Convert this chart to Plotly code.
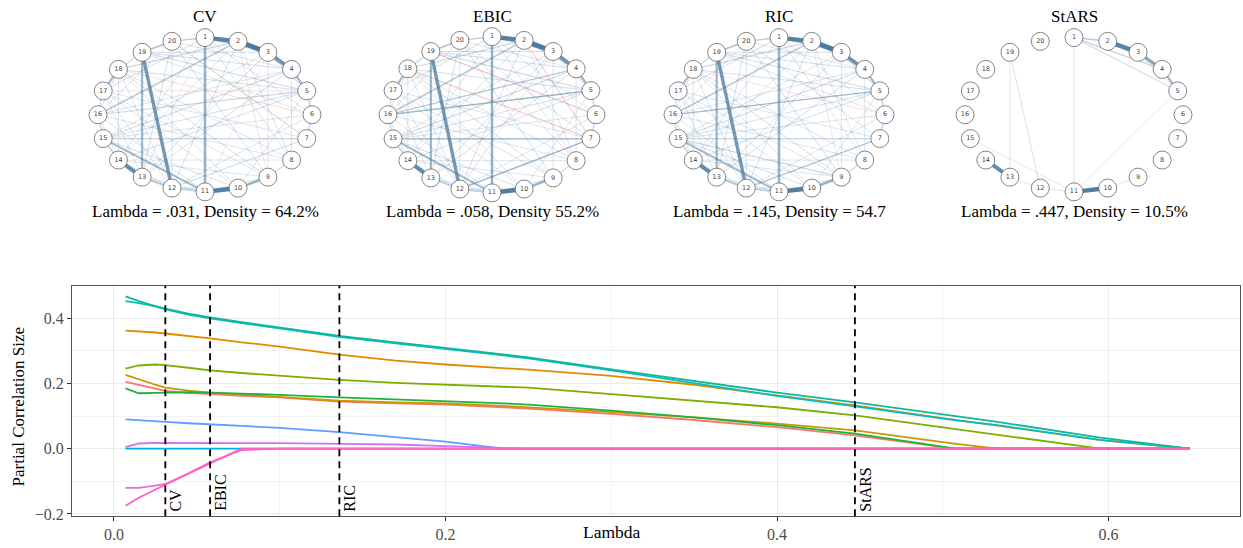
import math
import plotly.graph_objects as go

W, H = 1243, 548
SERIF = "Liberation Serif, DejaVu Serif, serif"

# ---------------- regularization path data ----------------
lam = [0.007, 0.015, 0.025, 0.031, 0.045, 0.058, 0.077, 0.1, 0.136, 0.17, 0.2,
       0.235, 0.25, 0.3, 0.35, 0.4, 0.447, 0.5, 0.508, 0.533, 0.595, 0.649]

zero_line = [0.0] * 22
teal_a = [0.467, 0.452, 0.437, 0.429, 0.414, 0.402, 0.388, 0.372, 0.346, 0.326, 0.308,
          0.289, 0.280, 0.243, 0.207, 0.172, 0.142, 0.104, 0.098, 0.082, 0.034, 0.0]
teal_b = [0.452, 0.446, 0.436, 0.427, 0.411, 0.399, 0.385, 0.369, 0.343, 0.323, 0.305,
          0.286, 0.277, 0.240, 0.201, 0.162, 0.130, 0.092, 0.087, 0.072, 0.027, 0.0]
orange = [0.362, 0.360, 0.356, 0.353, 0.346, 0.338, 0.326, 0.313, 0.288, 0.270, 0.258,
          0.247, 0.242, 0.223, 0.196, 0.163, 0.133, 0.094, 0.088, 0.071, 0.026, 0.0]
olive = [0.245, 0.255, 0.258, 0.256, 0.248, 0.240, 0.232, 0.224, 0.211, 0.202, 0.197,
         0.190, 0.187, 0.167, 0.148, 0.127, 0.102, 0.066, 0.060, 0.044, 0.0, 0.0]
mustard = [0.226, 0.212, 0.196, 0.187, 0.178, 0.172, 0.166, 0.160, 0.147, 0.142, 0.139,
           0.131, 0.127, 0.112, 0.096, 0.077, 0.056, 0.020, 0.015, 0.0, 0.0, 0.0]
salmon = [0.205, 0.195, 0.183, 0.177, 0.171, 0.167, 0.162, 0.157, 0.144, 0.139, 0.135,
          0.127, 0.123, 0.107, 0.088, 0.066, 0.041, 0.005, 0.0, 0.0, 0.0, 0.0]
green = [0.185, 0.170, 0.171, 0.172, 0.173, 0.172, 0.169, 0.165, 0.157, 0.151, 0.147,
         0.139, 0.135, 0.117, 0.096, 0.072, 0.046, 0.006, 0.0, 0.0, 0.0, 0.0]
blue = [0.090, 0.088, 0.084, 0.082, 0.078, 0.075, 0.070, 0.064, 0.051, 0.035, 0.022,
        0.0, 0.0, 0.0, 0.0, 0.0, 0.0, 0.0, 0.0, 0.0, 0.0, 0.0]
purple = [0.005, 0.016, 0.018, 0.018, 0.019, 0.019, 0.018, 0.017, 0.015, 0.013, 0.008,
          0.002, 0.0, 0.0, 0.0, 0.0, 0.0, 0.0, 0.0, 0.0, 0.0, 0.0]
pink_a = [-0.120, -0.120, -0.113, -0.108, -0.075, -0.042, -0.004, 0.0, 0.0, 0.0, 0.0,
          0.0, 0.0, 0.0, 0.0, 0.0, 0.0, 0.0, 0.0, 0.0, 0.0, 0.0]
pink_b = [-0.175, -0.150, -0.125, -0.110, -0.077, -0.045, 0.0, 0.0, 0.0, 0.0, 0.0,
          0.0, 0.0, 0.0, 0.0, 0.0, 0.0, 0.0, 0.0, 0.0, 0.0, 0.0]

path_series = [
    (zero_line, "#00AEEF"), (blue, "#619CFF"), (salmon, "#F8766D"), (mustard, "#C99800"),
    (green, "#1DB33F"), (olive, "#7CAE00"), (orange, "#E38900"),
    (teal_b, "#00BFC4"), (teal_a, "#10B79A"), (purple, "#D272F2"),
    (pink_a, "#F564E3"), (pink_b, "#FF62BC"),
]

criteria = ["CV", "EBIC", "RIC", "StARS"]
criteria_lambda = [0.031, 0.058, 0.136, 0.447]

# ---------------- network data (from, to, weight) ----------------
dense_core = [
    (1, 2, .40), (2, 3, .45), (3, 4, .32), (4, 5, .18), (1, 11, .20), (19, 12, .30),
    (19, 13, .17), (14, 13, .36), (11, 10, .42), (10, 9, .20), (17, 18, .16), (19, 20, .12),
    (15, 11, .16), (13, 12, .12), (12, 11, .10), (1, 3, .10), (2, 16, .10), (5, 6, .08),
    (6, 7, .07), (8, 9, .06), (15, 14, .09), (16, 15, .07), (17, 16, .06), (20, 1, .09),
    (19, 18, .06), (2, 4, .06), (3, 5, .05), (9, 11, .05), (10, 12, .04), (12, 14, .04),
]
dense_weak = [
    (2, 18, .06), (15, 7, .06), (15, 4, .05), (16, 5, .06), (19, 5, .05), (7, 12, .05),
    (20, 9, .04), (18, 9, .04), (3, 13, .04), (5, 15, .04), (1, 17, .04), (1, 8, .03),
    (2, 12, .04), (2, 14, .03), (3, 15, .03), (3, 19, .04), (4, 13, .04), (4, 16, .03),
    (4, 19, .04), (5, 10, .03), (5, 14, .04), (5, 18, .04), (6, 12, .03), (6, 15, .03),
    (6, 19, .03), (7, 17, .03), (7, 20, .03), (8, 14, .03), (8, 16, .03), (9, 14, .03),
    (9, 17, .03), (10, 15, .04), (10, 18, .03), (12, 17, .03), (12, 20, .03), (13, 17, .03),
    (13, 20, .04), (14, 18, .03), (16, 20, .03), (3, 9, .03), (2, 8, .03), (4, 8, .03),
    (14, 16, .04), (16, 18, .04), (11, 16, .03), (11, 13, .04), (1, 6, .03), (20, 4, .03),
    (18, 12, .03), (17, 10, .03), (1, 14, .03), (8, 18, .03),
]
cv_neg = [(18, 6, -.04), (2, 9, -.035), (20, 7, -.03), (17, 5, -.03), (1, 13, -.025), (3, 11, -.025)]
ebic_extra = [(18, 7, -.08), (2, 7, -.06), (19, 6, -.05), (20, 8, -.04), (3, 12, -.04),
              (16, 5, .09), (7, 12, .09), (15, 7, .08), (16, 4, .06)]
ric_extra = [(18, 6, -.03), (2, 9, -.03), (16, 5, .07), (7, 12, .06), (15, 9, .06)]

cv_edges = dense_core + dense_weak + cv_neg
ebic_edges = dense_core + dense_weak + ebic_extra
ric_edges = dense_core + dense_weak + ric_extra
stars_edges = [
    (1, 2, .10), (2, 3, .40), (3, 4, .25), (4, 5, .18), (1, 4, .07), (1, 5, .05),
    (1, 11, .035), (19, 13, .03), (19, 12, .035), (14, 13, .36), (11, 10, .42),
    (15, 11, .025), (13, 12, .03), (10, 9, .025), (5, 11, .02), (12, 11, .03),
    (2, 4, .04), (3, 5, .03),
]

networks = [
    ("CV", "Lambda = .031, Density = 64.2%", cv_edges),
    ("EBIC", "Lambda = .058, Density 55.2%", ebic_edges),
    ("RIC", "Lambda = .145, Density = 54.7", ric_edges),
    ("StARS", "Lambda = .447, Density = 10.5%", stars_edges),
]
node_labels = [str(i) for i in range(1, 21)]

# ---------------- figure ----------------
fig = go.Figure()

# path plot
for vals, col in path_series:
    fig.add_trace(go.Scatter(x=lam, y=vals, mode="lines", line=dict(color=col, width=1.8),
                             hoverinfo="skip", showlegend=False, xaxis="x", yaxis="y"))

shapes = []
annotations = []
for name, lv in zip(criteria, criteria_lambda):
    shapes.append(dict(type="line", xref="x", yref="y domain", x0=lv, x1=lv, y0=0, y1=1,
                       line=dict(color="black", width=1.8, dash="7px,5px"), layer="above"))
    annotations.append(dict(x=lv, y=0.0, xref="x", yref="y domain", text=name,
                            textangle=-90, showarrow=False, xanchor="left", yanchor="bottom",
                            xshift=0, yshift=3, font=dict(family=SERIF, size=16, color="black")))

# network panels: centre x, centre y, radius x, radius y (pixels)
panel_geom = [(205, 116, 107, 78), (492, 116, 104, 79), (779, 116, 106, 78), (1074, 116, 109, 78)]
R = 1.2
node_x = [math.cos(math.radians(90 - k * 18)) for k in range(20)]
node_y = [math.sin(math.radians(90 - k * 18)) for k in range(20)]

layout_axes = {}
for idx, ((title, caption, edges), (cx, cy, rx, ry)) in enumerate(zip(networks, panel_geom)):
    n = idx + 2
    xa, ya = f"x{n}", f"y{n}"
    layout_axes[f"xaxis{n}"] = dict(domain=[(cx - R * rx) / W, (cx + R * rx) / W],
                                    range=[-R, R], visible=False, fixedrange=True, anchor=ya)
    layout_axes[f"yaxis{n}"] = dict(domain=[1 - (cy + R * ry) / H, 1 - (cy - R * ry) / H],
                                    range=[-R, R], visible=False, fixedrange=True, anchor=xa)
    for a, b, w in sorted(edges, key=lambda e: abs(e[2])):
        f = min(abs(w) / 0.45, 1.0)
        alpha = 0.10 + 0.90 * f ** 0.75
        rgb = "74,122,158" if w > 0 else "222,110,110"
        fig.add_trace(go.Scatter(
            x=[node_x[a - 1], node_x[b - 1]], y=[node_y[a - 1], node_y[b - 1]],
            mode="lines", line=dict(color=f"rgba({rgb},{alpha:.3f})", width=0.6 + 4.2 * f),
            hoverinfo="skip", showlegend=False, xaxis=xa, yaxis=ya))
    fig.add_trace(go.Scatter(
        x=node_x, y=node_y, mode="markers+text", text=node_labels,
        marker=dict(symbol="circle", size=18, color="white", line=dict(color="#666666", width=0.8)),
        textfont=dict(family="DejaVu Sans", size=6.5, color="#444444"),
        hoverinfo="skip", showlegend=False, xaxis=xa, yaxis=ya))
    annotations.append(dict(x=cx / W, y=1 - 17 / H, xref="paper", yref="paper", text=title,
                            xanchor="center", yanchor="middle", showarrow=False,
                            font=dict(family=SERIF, size=17, color="black")))
    annotations.append(dict(x=cx / W, y=1 - 214 / H, xref="paper", yref="paper", text=caption,
                            xanchor="center", yanchor="middle", showarrow=False,
                            font=dict(family=SERIF, size=17, color="black")))

# axis titles
annotations.append(dict(x=612 / W, y=1 - 538 / H, xref="paper", yref="paper", text="Lambda",
                        xanchor="center", yanchor="middle", showarrow=False,
                        font=dict(family=SERIF, size=17.5, color="black")))
annotations.append(dict(x=18 / W, y=1 - 411 / H, xref="paper", yref="paper",
                        text="Partial Correlation Size", textangle=-90, showarrow=False,
                        xanchor="center", yanchor="middle",
                        font=dict(family=SERIF, size=17, color="black")))

tick_font = dict(family=SERIF, size=16, color="#4D4D4D")
fig.update_layout(
    width=W, height=H, margin=dict(l=0, r=0, t=0, b=0),
    paper_bgcolor="white", plot_bgcolor="white", showlegend=False,
    xaxis=dict(domain=[72 / W, 1240 / W], range=[-0.0253, 0.6793], tickvals=[0, 0.2, 0.4, 0.6],
               ticktext=["0.0", "0.2", "0.4", "0.6"], showgrid=True, gridcolor="#EBEBEB",
               gridwidth=1, minor=dict(tickvals=[0.1, 0.3, 0.5], showgrid=True,
                                        gridcolor="#F2F2F2", gridwidth=0.6),
               zeroline=False, showline=True, mirror=True, linecolor="#555555", linewidth=1,
               ticks="outside", ticklen=4, tickcolor="#333333", tickfont=tick_font,
               anchor="y", fixedrange=True),
    yaxis=dict(domain=[1 - 522 / H, 1 - 289 / H], range=[-0.207, 0.499],
               tickvals=[-0.2, 0.0, 0.2, 0.4], ticktext=["\u22120.2", "0.0", "0.2", "0.4"],
               showgrid=True, gridcolor="#EBEBEB", gridwidth=1,
               minor=dict(tickvals=[-0.1, 0.1, 0.3], showgrid=True, gridcolor="#F2F2F2",
                          gridwidth=0.6),
               zeroline=False, showline=True, mirror=True, linecolor="#555555", linewidth=1,
               ticks="outside", ticklen=4, tickcolor="#333333", tickfont=tick_font,
               anchor="x", fixedrange=True),
    shapes=shapes, annotations=annotations,
    **layout_axes,
)

fig.write_html("out.html")
